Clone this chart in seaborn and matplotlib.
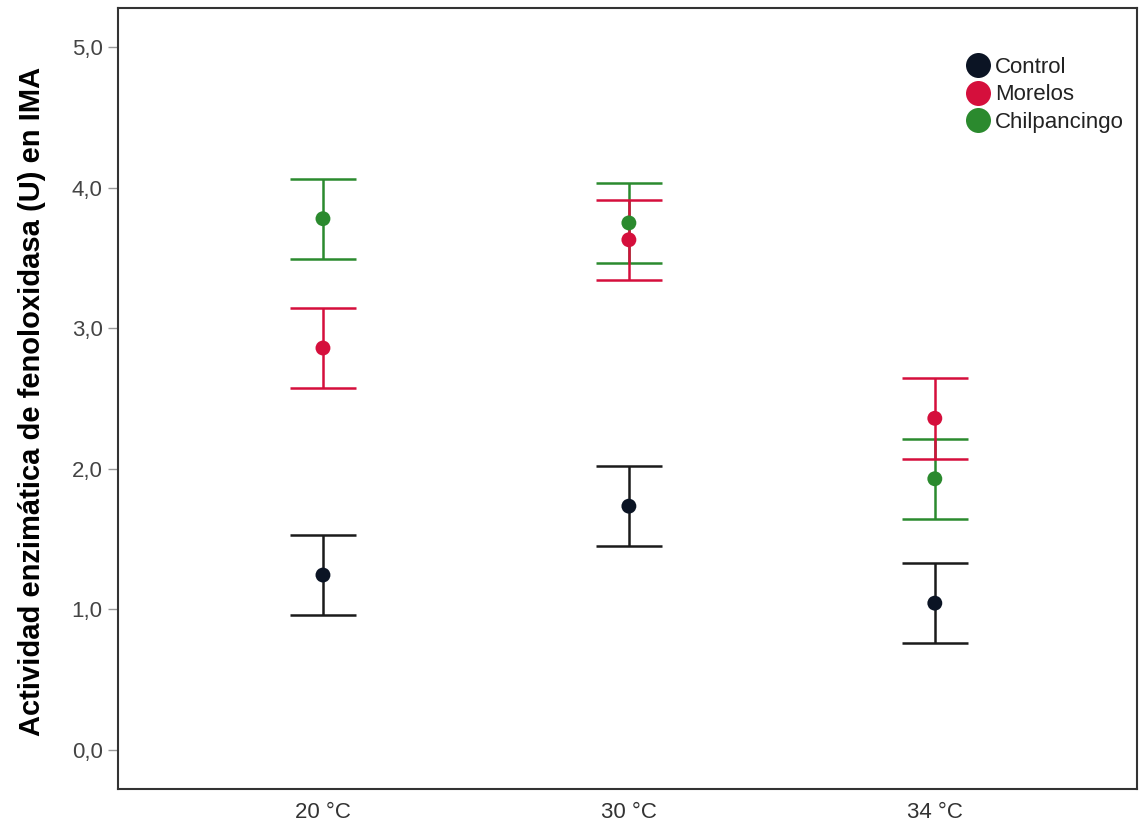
import matplotlib
matplotlib.use("Agg")
import matplotlib.pyplot as plt
from matplotlib.ticker import FuncFormatter
from matplotlib.lines import Line2D
import seaborn as sns
import pandas as pd

categories = ["20 °C", "30 °C", "34 °C"]
groups = ["Control", "Morelos", "Chilpancingo"]
control_mean = [1.245, 1.735, 1.045]
control_err = [0.285, 0.285, 0.285]
morelos_mean = [2.86, 3.63, 2.36]
morelos_err = [0.285, 0.285, 0.29]
chilp_mean = [3.78, 3.75, 1.93]
chilp_err = [0.285, 0.285, 0.285]
colors = {"Control": "#0b1424", "Morelos": "#d50f3c", "Chilpancingo": "#2b8a2e"}
bar_colors = {"Control": "#1a1a1a", "Morelos": "#d50f3c", "Chilpancingo": "#2b8a2e"}

means = {"Control": control_mean, "Morelos": morelos_mean, "Chilpancingo": chilp_mean}
errs = {"Control": control_err, "Morelos": morelos_err, "Chilpancingo": chilp_err}

rows = []
for g in groups:
    for i, c in enumerate(categories):
        rows.append({"Temperatura": c, "pos": i, "Grupo": g, "media": means[g][i], "err": errs[g][i]})
df = pd.DataFrame(rows)

sns.set_style("white")
plt.rcParams["font.family"] = ["Liberation Sans", "DejaVu Sans"]
fig = plt.figure(figsize=(11.39, 8.26), dpi=100)
ax = fig.add_axes([0.1036, 0.0448, 0.8944, 0.9452])

draw_order = ["Control", "Chilpancingo", "Morelos"]
for g in draw_order:
    sub = df[df["Grupo"] == g]
    ax.errorbar(sub["pos"], sub["media"], yerr=sub["err"], fmt="none",
                ecolor=bar_colors[g], elinewidth=1.8, capsize=24, capthick=1.8, zorder=2)
sns.scatterplot(data=df, x="pos", y="media", hue="Grupo", hue_order=draw_order,
                palette=colors, s=115, edgecolor="none", legend=False, ax=ax, zorder=3)

ax.set_xlim(-0.67, 2.66)
ax.set_ylim(-0.277, 5.277)
ax.set_xticks(range(len(categories)))
ax.set_xticklabels(categories)
ax.set_yticks([0, 1, 2, 3, 4, 5])
ax.yaxis.set_major_formatter(FuncFormatter(lambda v, p: f"{v:.1f}".replace(".", ",")))
ax.tick_params(axis="y", which="major", left=True, length=7, width=1, color="#999999",
               labelsize=16, labelcolor="#444444", pad=4)
ax.tick_params(axis="x", which="major", bottom=False, labelsize=16, labelcolor="#333333", pad=6)
ax.set_xlabel("")
ax.set_ylabel("Actividad enzimática de fenoloxidasa (U) en IMA", fontsize=21, fontweight="bold",
              color="black", va="center")
ax.yaxis.set_label_coords(-0.084, 0.496)
for s in ax.spines.values():
    s.set_visible(True)
    s.set_color("#333333")
    s.set_linewidth(1.5)

handles = [Line2D([0], [0], marker="o", linestyle="none", markersize=18,
                  markerfacecolor=colors[g], markeredgecolor="none", label=g) for g in groups]
leg = ax.legend(handles=handles, loc="upper left", bbox_to_anchor=(0.8307, 0.9373), frameon=False,
                borderpad=0, borderaxespad=0, handlelength=1.2, handletextpad=0.2,
                labelspacing=0.28, prop={"size": 16})
for t in leg.get_texts():
    t.set_color("#222222")

fig.savefig("out.png", dpi=100)
